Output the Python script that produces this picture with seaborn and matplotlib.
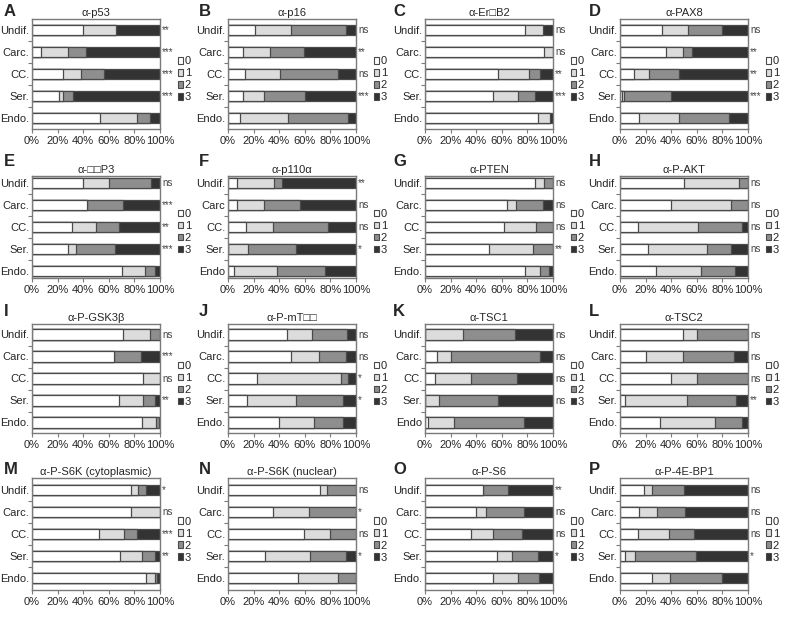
import matplotlib
matplotlib.use("Agg")
import matplotlib.pyplot as plt
from matplotlib.patches import Patch
from matplotlib.ticker import FixedLocator
import seaborn as sns
import pandas as pd

# ---------------- data ----------------
LETTERS = list("ABCDEFGHIJKLMNOP")
TITLES = ["α-p53", "α-p16", "α-Er\u25a1B2", "α-PAX8",
          "α-\u25a1\u25a1P3", "α-p110α", "α-PTEN", "α-P-AKT",
          "α-P-GSK3β", "α-P-mT\u25a1\u25a1", "α-TSC1", "α-TSC2",
          "α-P-S6K (cytoplasmic)", "α-P-S6K (nuclear)", "α-P-S6", "α-P-4E-BP1"]
SCORES = ["0", "1", "2", "3"]
GROUPS_STD = ["Undif.", "Carc.", "CC.", "Ser.", "Endo."]
GROUPS_F = ["Undif.", "Carc", "CC.", "Ser.", "Endo"]
GROUPS_K = ["Undif.", "Carc.", "CC.", "Ser.", "Endo"]

# percent of cases with score 0,1,2,3 per group (Undif, Carc, CC, Ser, Endo)
P53 = [[40, 26, 0, 34], [7, 21, 14, 58], [24, 14, 18, 44], [21, 3, 8, 68], [53, 29, 10, 8]]
P16 = [[21, 28, 43, 8], [12, 21, 26, 41], [13, 28, 45, 14], [12, 16, 32, 40], [9, 38, 47, 6]]
ERBB2 = [[78, 14, 0, 8], [93, 7, 0, 0], [57, 24, 9, 10], [53, 20, 13, 14], [88, 10, 0, 2]]
PAX8 = [[33, 20, 27, 20], [36, 13, 7, 44], [11, 12, 23, 54], [1.5, 1.5, 37, 60], [15, 31, 39, 15]]
XXP3 = [[40, 20, 33, 7], [43, 0, 28, 29], [31, 19, 18, 32], [28, 6, 31, 35], [70, 18, 8, 4]]
P110A = [[7, 29, 6, 58], [7, 21, 28, 44], [14, 21, 43, 22], [0, 16, 37, 47], [5, 33, 38, 24]]
PTEN = [[86, 7, 7, 0], [64, 7, 21, 8], [62, 25, 13, 0], [50, 34, 16, 0], [78, 12, 7, 3]]
PAKT = [[50, 43, 7, 0], [40, 47, 13, 0], [14, 47, 34, 5], [22, 46, 19, 13], [28, 35, 27, 10]]
PGSK3B = [[71, 21, 8, 0], [64, 0, 21, 15], [87, 13, 0, 0], [68, 19, 9, 4], [86, 11, 2, 1]]
PMTOR = [[46, 20, 27, 7], [49, 22, 21, 8], [23, 65, 6, 6], [15, 38, 37, 10], [40, 27, 23, 10]]
TSC1 = [[0, 30, 40, 30], [9, 11, 70, 10], [8, 28, 36, 28], [0, 11, 46, 43], [2, 21, 54, 23]]
TSC2 = [[49, 11, 40, 0], [20, 29, 40, 11], [40, 20, 40, 0], [4, 48, 39, 9], [31, 43, 21, 5]]
PS6K_C = [[77, 6, 6, 11], [77, 23, 0, 0], [52, 20, 10, 18], [69, 17, 10, 4], [89, 7, 2, 2]]
PS6K_N = [[72, 5, 23, 0], [35, 28, 37, 0], [59, 21, 20, 0], [29, 35, 28, 8], [55, 31, 14, 0]]
PS6 = [[45, 0, 20, 35], [40, 8, 29, 23], [36, 17, 23, 24], [56, 12, 20, 12], [53, 20, 16, 11]]
P4EBP1 = [[19, 6, 25, 50], [15, 14, 22, 49], [14, 24, 20, 42], [4, 8, 47, 41], [25, 14, 41, 20]]

PANEL_DATA = [P53, P16, ERBB2, PAX8, XXP3, P110A, PTEN, PAKT,
              PGSK3B, PMTOR, TSC1, TSC2, PS6K_C, PS6K_N, PS6, P4EBP1]

STARS = [["**", "***", "***", "***"], ["ns", "**", "ns", "***"],
         ["ns", "ns", "**", "***"], ["ns", "**", "**", "***"],
         ["ns", "***", "**", "***"], ["**", "ns", "ns", "*"],
         ["ns", "ns", "ns", "**"], ["ns", "ns", "ns", "ns"],
         ["ns", "***", "ns", "**"], ["ns", "ns", "*", "*"],
         ["ns", "ns", "ns", "ns"], ["ns", "ns", "ns", "**"],
         ["*", "ns", "***", "**"], ["ns", "*", "ns", "*"],
         ["**", "ns", "ns", "*"], ["ns", "ns", "ns", "*"]]

XTICKS = [0, 20, 40, 60, 80, 100]
XTICKLABELS = ["0%", "20%", "40%", "60%", "80%", "100%"]

# ---------------- style ----------------
sns.set_style("white")
plt.rcParams["font.family"] = ["Liberation Sans", "DejaVu Sans"]

COLORS = ["#ffffff", "#dcdcdc", "#8e8e8e", "#333333"]
EDGE = "#4a4a4a"
SPINE = "#7a7a7a"

W, H = 786, 621
fig = plt.figure(figsize=(W / 100, H / 100), dpi=100)

COL_LEFT = [32, 228, 425, 620]
AX_W = 128
ROW_TB = [(19, 129), (176, 278), (324, 433), (478, 590)]
LETTER_Y = [12, 161, 311, 470]
LETTER_X = [4, 199, 393, 589]
SPACING = 22.0

for idx in range(16):
    r, c = divmod(idx, 4)
    top, bot = ROW_TB[r]
    left = COL_LEFT[c]
    ax = fig.add_axes([left / W, 1 - bot / H, AX_W / W, (bot - top) / H])
    groups = GROUPS_F if idx == 5 else (GROUPS_K if idx == 10 else GROUPS_STD)
    vals = PANEL_DATA[idx]
    rows = []
    for g, v in zip(groups, vals):
        cum = 0
        rec = {"group": g}
        for k, s in enumerate(SCORES):
            cum += v[k]
            rec["cum" + s] = cum
        rows.append(rec)
    df = pd.DataFrame(rows)
    for k in [3, 2, 1, 0]:
        sns.barplot(data=df, x="cum" + SCORES[k], y="group", order=groups,
                    orient="h", color=COLORS[k], edgecolor=EDGE, linewidth=0.9,
                    width=0.48, ax=ax, saturation=1)
    units = (bot - top) / SPACING
    m = (units - 4) / 2
    ax.set_xlim(0, 100)
    ax.set_ylim(4 + m, -m)
    ax.set_xlabel("")
    ax.set_ylabel("")
    ax.set_xticks(XTICKS)
    ax.set_xticklabels(XTICKLABELS, fontsize=8)
    ax.set_yticks(range(5))
    ax.set_yticklabels(groups, fontsize=8)
    ax.yaxis.set_minor_locator(FixedLocator([0.5, 1.5, 2.5, 3.5]))
    ax.tick_params(axis="y", which="major", length=0, pad=2)
    ax.tick_params(axis="y", which="minor", left=True, length=3, width=0.8, color=SPINE)
    ax.tick_params(axis="x", which="major", bottom=True, length=3, width=0.8, color=SPINE, pad=2)
    for sp in ax.spines.values():
        sp.set_color(SPINE)
        sp.set_linewidth(1.0)
        sp.set_visible(True)
    for i, s in enumerate(STARS[idx]):
        ax.text(101.5, i, s, ha="left", va="center", fontsize=7, color="#444444",
                clip_on=False)
    ax.set_title(TITLES[idx], fontsize=8, pad=2)
    handles = [Patch(facecolor=COLORS[k], edgecolor=EDGE, linewidth=0.8) for k in range(4)]
    ax.legend(handles, SCORES, loc="center left", bbox_to_anchor=(1.14, 0.45),
              frameon=False, handlelength=0.5, handleheight=0.5, handletextpad=0.12,
              labelspacing=0.18, fontsize=8, borderaxespad=0, borderpad=0)
    fig.text(LETTER_X[c] / W, 1 - LETTER_Y[r] / H, LETTERS[idx], fontsize=12,
             fontweight="bold", va="center", ha="left")

fig.savefig("out.png", dpi=100)
